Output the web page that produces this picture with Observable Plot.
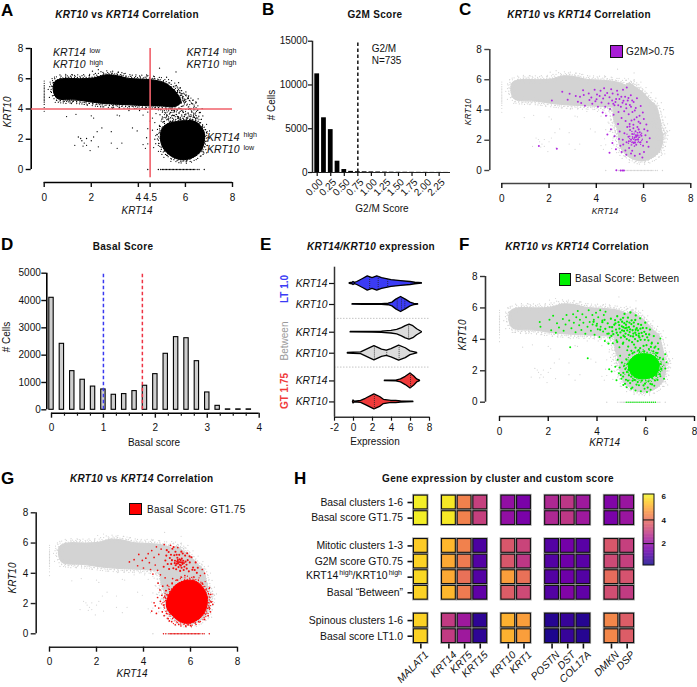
<!DOCTYPE html>
<html><head><meta charset="utf-8">
<script src="https://cdn.jsdelivr.net/npm/d3@7"></script>
<script src="https://cdn.jsdelivr.net/npm/@observablehq/plot@0.6"></script>
<style>
html,body{margin:0;padding:0;background:#fff}
#page{position:relative;width:697px;height:687px;overflow:hidden;font-family:"Liberation Sans",Arial,sans-serif;color:#111}
#page svg{position:absolute;background:transparent;overflow:visible}
.t{position:absolute;white-space:nowrap;line-height:1}
.t sup{font-size:.68em;line-height:0;vertical-align:baseline;position:relative;top:-.45em;margin-left:1px}
</style></head><body><div id="page"></div>
<script>
// ---------- data ----------
const histG2mBins=[0,.125,.25,.375,.5,.625,.75,.875,1,1.125,1.25,1.375,1.5,1.625,1.75,1.875,2,2.125,2.25,2.375];
const histG2mCells=[11270,6250,4900,1290,340,130,90,80,70,60,50,40,30,30,25,20,20,15,15,10];
const basalBins=[0,.2,.4,.6,.8,1,1.2,1.4,1.6,1.8,2,2.2,2.4,2.6,2.8,3,3.2,3.4,3.6,3.8];
const basalCells=[4100,2415,1415,1100,850,745,550,575,685,880,1305,2050,2660,2620,1780,635,145,15,15,15];
const violinNames=["KRT14","KRT10","KRT14","KRT10","KRT14","KRT10"];
const violinFills=["#3b3bf5","#3b3bf5","#dcdcdc","#dcdcdc","#f03a3a","#f03a3a"];
const violinShapes=[
 [[-.4,.05],[-.1,.1],[0,.2],[.15,.08],[.4,.2],[1,.6],[1.5,.95],[2,.72],[2.5,.95],[3,.72],[4,.46],[5,.32],[6,.2],[6.5,.1],[7.2,.03]],
 [[-.1,.03],[1,.04],[3,.05],[3.7,.1],[4.1,.25],[4.5,.65],[5,1],[5.5,.65],[6,.25],[6.4,.08],[6.8,.03]],
 [[-.3,.03],[2,.05],[3,.08],[4,.17],[4.6,.3],[5.1,.55],[5.5,.82],[5.9,1],[6.3,.8],[6.7,.4],[7.2,.03]],
 [[-.6,.04],[0,.08],[.8,.12],[1.3,.42],[2.2,.95],[3,.48],[3.5,.34],[4,.55],[4.8,1],[5.5,.66],[6,.25],[6.7,.03]],
 [[3.3,.03],[4.5,.05],[5,.2],[5.5,.55],[6,1],[6.4,.6],[6.7,.2],[7,.03]],
 [[-.05,.03],[0,.2],[.15,.04],[.8,.13],[1.3,.42],[2.2,1],[2.8,.66],[3.2,.28],[4,.13],[4.5,.14],[5,.08],[6.3,.03]]];
const violinMarks=[[[1.7,.8],[2.6,.93],[3.6,.54]],[[4.6,.72],[5.05,.98],[5.4,.7]],[[5.8,.97]],[[2.2,.95],[3.5,.34],[4.8,1]],[[6,1]],[[2.2,1]]];
const violinGroups=[{label:"LT 1.0",y:289,color:"#3b3bf5"},{label:"Between",y:341,color:"#999"},{label:"GT 1.75",y:391,color:"#f03a3a"}];

const cloudBand=[[.38,5.35],[.48,5.85],[.9,6.02],[1.5,6],[2.1,6.05],[2.6,6.25],[3.1,6.2],[3.6,6.02],[4.2,5.97],[4.7,5.9],[5.15,5.7],[5.45,5.35],[5.7,4.9],[5.8,4.45],[5.5,4.15],[5,4.2],[4.4,4.22],[3.6,4.28],[3,4.32],[2.2,4.42],[1.5,4.58],[.8,4.62],[.5,4.78]];
const cloudLobe=[[4.98,2.6],[5.25,3.02],[5.8,3.2],[6.35,3.2],[6.68,2.8],[6.82,2.2],[6.7,1.35],[6.36,.84],[5.95,.65],[5.5,.8],[5.12,1.28],[4.95,1.9]];
const cloudBridge=[[4.7,4.5],[5.4,5.8],[5.95,5.2],[6.3,4.6],[6.55,4.25],[6.72,3.2],[6.78,2.3],[5,2.3],[4.75,3.3]];
const bridgeScribble=[[4.85,4.1],[5.4,3.1],[5.1,3.9],[5.9,3.2],[5.3,4.1],[6.3,3.2],[5.7,4.1],[6.6,3.3],[6.1,4.15],[6.65,3.7],[6.35,4.3],[6.55,3],[5.5,3.6],[4.95,3.3],[5.6,3.95],[6.4,3.45],[5.6,5.6],[6,4.4],[5.8,5.3],[6.3,4.3],[6,5],[6.5,4.4],[5.9,4.2],[6.15,4.8],[5.75,4.3]];
const bridgeDots=[[4.85,3.95],[4.92,3.62],[4.97,3.2],[5.03,3.87],[5.02,3.47],[5.11,3.04],[5.13,3.77],[5.17,4.02],[5.23,3.33],[5.21,3.63],[5.29,3.88],[5.31,3.14],[5.37,3.42],[5.36,3.77],[5.44,4.01],[5.47,3.22],[5.49,3.57],[5.53,3.85],[5.59,3.31],[5.62,3.63],[5.64,3.97],[5.69,3.41],[5.73,3.76],[5.77,3.28],[5.81,4.03],[5.85,3.53],[5.89,3.84],[5.93,3.29],[5.97,3.62],[6.02,3.96],[6.04,3.41],[6.11,3.73],[6.13,3.97],[6.19,3.52],[6.23,3.23],[6.27,3.81],[6.33,3.44],[6.35,4.07],[6.41,3.67],[6.44,3.24],[6.51,3.92],[6.53,4.21],[6.57,3.52],[6.61,3.08],[6.63,3.77],[6.67,3.32],[6.71,4.03],[6.74,3.54],[6.73,2.93],[5.57,5.53],[5.78,5.41],[6.02,5.13],[6.14,4.87],[6.31,4.58],[6.46,4.44],[6.54,4.67],[5.41,5.88],[5.71,5.74]];
const stragglers=[[1.3,1.6],[1.45,2.15],[1.55,2.05],[1.6,1.9],[1.65,1.55],[1.7,1.75],[1.8,1.6],[1.8,2.05],[1.95,1.25],[2,1.9],[2.1,2.15],[2.3,1.5],[2.25,2.5],[2.45,2.75],[2.85,2.5],[2.85,1.75],[3.1,1.4],[3.3,1.75],[.95,3.5],[1.35,3.65],[2,3.55],[2.1,3.4],[3.1,3.6],[3.2,3.55],[3.75,2.75],[3.95,2.55],[4.2,1.65],[4.3,1.4],[4.4,1.7],[4.35,2.1],[4.4,2.7],[4.5,3.2],[4.2,3.6],[4.4,3.8],[4.05,3.9],[3.6,3.9],[2.3,6.6],[2.05,6.5],[4.9,6.7],[5.6,6.45],[4.8,2.3],[4.7,2],[4.85,1.6],[4.95,1.2],[4.9,2.85],[5,1],[5.2,.95],[4.7,3.1],[4.6,3.4],[4.75,3.7],[6.9,1.1],[6.92,2.5],[6.82,1.75],[6.75,1],[4.6,2.6],[4.65,1.45],[.6,4.45],[1.1,4.4],[1.7,4.3],[2.4,4.15],[2.9,4.05],[.45,6],[1.2,6.25],[3.3,6.4],[4.35,6.25],[5.2,6.1]];
const leftStripY=[3.85,4.1,4.3,4.45,4.55,4.65,4.75,4.85,4.95,5.05,5.15,5.25,5.35,5.45,5.55,5.7,5.85];
const zeroRowX=[4.4,4.85,4.95,5.02,5.08,5.14,5.2,5.26,5.32,5.38,5.44,5.5,5.56,5.62,5.68,5.74,5.8,5.86,5.92,5.98,6.04,6.1,6.16,6.22,6.28,6.34,6.4,6.5,6.58,6.8];

const g2mDots=[[2.12,4.62],[2.33,1.43],[1.57,1.62],[2.56,5.21],[2.79,4.68],[2.87,5.07],[3.13,4.93],[3.22,4.55],[3.31,4.88],[3.36,4.47],[3.47,4.99],[3.52,4.28],[3.44,5.31],[3.71,4.66],[3.68,5.09],[3.83,4.41],[3.79,4.83],[3.93,5.34],[3.96,4.58],[4.03,5.02],[4.07,4.22],[4.01,4.71],[4.18,5.27],[4.22,4.49],[4.27,3.83],[4.14,4.92],[4.33,5.44],[4.38,4.21],[4.29,4.76],[4.46,5.13],[4.41,3.62],[4.52,4.43],[4.37,4.97],[4.63,5.38],[4.58,4.07],[4.67,4.62],[4.73,3.68],[4.69,5.09],[4.77,4.31],[4.56,4.84],[4.88,5.27],[4.81,4.53],[4.94,3.87],[4.91,5.03],[5.04,4.22],[4.98,4.73],[5.07,3.47],[5.13,5.34],[5.11,4.48],[5.18,3.92],[5.22,4.87],[5.27,4.12],[5.24,3.27],[5.33,4.63],[5.29,5.48],[5.37,3.72],[5.42,4.33],[5.46,4.97],[5.41,3.08],[5.53,3.86],[5.58,4.53],[5.61,3.38],[5.67,4.13],[5.72,4.78],[5.74,2.87],[5.83,3.62],[5.88,4.27],[5.86,3.12],[5.97,3.83],[6.03,2.72],[6.01,3.41],[6.08,2.33],[6.12,3.04],[6.14,1.88],[6.17,2.63],[6.21,1.57],[6.26,2.14],[4.47,2.38],[4.56,1.17],[4.62,2.73],[4.68,1.82],[4.77,2.27],[4.83,1.41],[4.92,3.07],[4.96,2.08],[5.02,1.63],[4.99,2.58],[5.07,1.22],[5.12,2.03],[5.14,1.72],[5.19,2.47],[5.23,1.33],[5.27,1.04],[5.31,2.88],[5.28,1.87],[5.36,2.23],[5.39,1.48],[5.43,2.67],[5.47,1.12],[5.52,1.31],[5.63,.97],[5.84,1.09],[5.95,.86],[6.02,1.23],[5.03,0],[5.11,0],[5.17,0],[4.85,.02],[4.72,4.41],[4.84,4.73],[4.93,4.31],[5.06,4.88],[5.15,4.61],[5.26,4.38],[5.36,4.79],[5.47,4.21],[5.52,4.62],[5.63,3.97],[5.71,3.52],[5.79,3.23],[5.57,3.02],[5.49,3.31],[5.41,2.91],[5.57,2.79],[5.66,2.59],[5.73,2.33],[5.52,2.42],[5.62,2.18],[5.47,2.03],[5.58,1.82],[5.69,1.71],[5.77,2.07],[5.87,1.87],[5.91,2.29],[5.98,1.63],[5.84,2.53],[5.79,2.72],[5.38,1.93]];
const g2mScribble=[[5.3,2.4],[5.9,1.7],[5.5,2.6],[6,2],[5.35,1.8],[5.95,2.5],[5.45,1.6],[5.8,2.7],[5.6,1.5],[5.7,2.4],[5.4,2.1]];

const betweenCore=[[5.3,2.15],[5.55,1.6],[6,1.5],[6.4,1.75],[6.55,2.45],[6.25,3],[5.7,3.05],[5.35,2.65]];
const betweenDots=[[1.65,5.1],[1.68,4.8],[2.05,5.25],[2.12,4.58],[2.2,5.5],[2.31,4.42],[2.36,5.03],[2.44,4.75],[2.6,5.3],[2.63,4.55],[2.71,4.95],[2.75,5.55],[2.86,5.2],[2.9,3.5],[2.95,4.7],[3.02,5.6],[3.05,5.05],[3.12,4.45],[3.15,5.4],[3.21,5.8],[3.27,4.9],[3.3,5.25],[3.36,4.6],[3.4,5.6],[3.44,5.05],[3.52,4.35],[3.55,5.4],[3.61,4.8],[3.62,2.8],[3.66,5.85],[3.7,5.1],[3.75,4.55],[3.81,5.55],[3.82,4.95],[3.87,5.25],[3.9,4.3],[3.96,5.7],[4,5],[4.03,4.65],[4.05,5.4],[4.1,4.15],[4.13,5.85],[4.15,4.8],[4.22,5.2],[4.25,4.5],[4.28,5.55],[4.32,3.9],[4.35,5.75],[4.42,4.35],[4.52,4.1],[4.65,3.75],[4.8,3.95],[4.92,3.5],[5.08,3.8],[5.24,3.3],[5.46,3.1],[5.74,3.2],[6.25,3.8],[6.4,3.55],[6.42,3.15],[6.5,3.75],[6.6,4.05],[6.8,3.05],[6.85,2.55],[4.5,2.1],[4.6,1.95],[4.75,2.25],[4.8,1.4],[4.85,2.7],[4.9,1.85],[4.95,2.95],[5,1.5],[5.08,1.1],[5.22,.95],[5.4,.85],[5.58,.75],[5.8,.7],[5.95,.85],[6.05,.65],[6.2,.8],[6.35,1.05],[6.45,1.8],[6.6,1.65],[6.75,1.5],[6.8,2.15]];
const betweenUpperDots=[[4.57,5.31],[4.83,5.47],[5.03,5.12],[4.71,4.93],[5.27,5.38],[5.16,4.71],[4.96,4.44],[5.41,4.97],[5.57,5.23],[5.34,4.46],[5.63,4.71],[4.78,4.62],[5.09,4.23],[5.48,4.18],[5.72,4.37],[5.81,4.92],[5.94,4.48],[6.06,4.13],[5.67,3.89],[5.22,4.02],[4.88,5.09],[4.63,4.51],[4.44,5.02],[4.34,4.67],[4.22,5.09],[5.13,5.62],[5.37,5.71],[5.59,5.52],[5.77,5.34],[5.98,5.06],[6.17,4.62],[6.33,4.21],[6.24,3.73],[5.91,3.58],[5.52,3.67],[5.28,3.54],[5.06,3.72],[4.83,3.83],[4.59,4.22],[4.47,3.73],[5.19,4.93],[5.02,4.83],[5.31,4.77],[5.46,4.58],[5.24,4.57],[4.92,4.68],[5.11,4.53],[5.38,4.21],[5.57,4.42],[5.74,4.12],[5.87,4.21],[5.68,4.57],[5.51,4.83],[5.33,5.07],[5.12,5.03],[4.97,5.26],[4.74,5.22],[4.52,4.78],[4.67,4.33],[5.42,5.21],[5.78,4.68],[6.03,4.72],[6.14,4.31],[5.96,3.97],[5.61,4.28],[5.17,4.37],[5.03,4.57],[4.86,4.27],[5.29,4.29],[5.44,3.82],[4.76,5.02],[4.91,4.91],[5.08,4.77],[5.22,4.74],[5.36,4.63],[5.49,4.37],[5.59,4.61],[5.71,4.22],[5.83,4.41],[4.98,4.11],[5.14,4.16],[5.32,3.93],[5.56,4.02],[5.79,3.97],[6.01,4.33],[6.11,3.94],[5.88,4.73],[5.69,4.97],[5.51,5.07],[5.23,5.13],[5.07,5.37],[4.81,4.42],[4.62,4.77],[4.48,4.37],[4.31,5.24],[4.13,4.61],[3.98,4.87],[3.86,5.12]];
const betweenLowerDots=[[5.12,2.33],[5.21,2.71],[5.33,3.02],[5.08,1.87],[5.19,1.43],[5.36,1.22],[5.29,2.06],[5.41,1.63],[5.53,1.42],[5.67,1.28],[5.83,1.37],[5.97,1.18],[6.11,1.33],[6.27,1.52],[6.43,1.67],[6.53,2.02],[6.61,2.43],[6.58,2.83],[6.47,3.12],[6.31,3.23],[6.13,3.38],[5.94,3.24],[5.71,3.31],[5.53,3.18],[5.02,2.52],[4.93,2.21],[5.15,1.17],[5.45,.93],[5.72,1.08],[6.08,.93],[6.26,1.13],[5.58,3.47],[6.03,3.63],[6.36,3.47],[6.52,3.38],[5.26,2.44],[5.31,1.71],[5.37,2.37],[6.48,1.42],[6.57,1.79],[5.23,1.92],[5.16,2.11],[5.27,1.37],[5.46,1.37],[5.62,1.12],[5.91,1.07],[6.19,1.17],[6.38,1.38],[5.07,1.63],[4.97,1.73],[5.41,3.27],[5.77,3.44],[6.21,3.52],[6.42,2.97],[6.64,2.12],[6.71,2.73]];
const betweenZero=[5.2,5.28,5.36,5.44,5.52,5.6,5.68,5.76,5.84,5.92,6,6.08,6.16,6.24,6.32,6.4];

const gtLobe=[[4.98,2.1],[5.12,2.7],[5.4,3.25],[5.8,3.52],[6.2,3.48],[6.5,3.1],[6.7,2.5],[6.67,1.7],[6.42,1.1],[6,.72],[5.6,.78],[5.28,1.15],[5.03,1.6]];
const gtDots=[[3.4,4.75],[3.6,4.9],[3.75,4.5],[3.8,5.25],[3.95,4.85],[4,4.35],[4.1,5],[4.2,5.3],[4.25,4.7],[4.3,4.25],[4.35,5.5],[4.4,3.95],[4.45,5.05],[4.5,4.55],[4.55,5.75],[4.6,4.2],[4.65,5.25],[4.72,3.9],[4.75,5.6],[4.88,5.9],[4.92,3.7],[5.15,5.85],[5.24,3.65],[5.46,5.7],[5.76,3.85],[6.42,3.85],[6.5,4.25],[6.6,4],[4.35,1.5],[4.45,2.05],[4.5,1.85],[4.55,1.35],[4.6,2.4],[4.62,3.35],[4.65,1.7],[4.7,2.9],[4.72,2.15],[4.78,2.55],[4.8,1.45],[4.82,3.15],[4.85,1.9],[4.88,1.2],[4.92,2.4],[4.95,2.85],[4.98,1.35],[5.02,3.2],[5.05,1],[5.1,.85],[5.2,.8],[5.22,3.35],[5.35,.6],[5.45,3.55],[5.5,.62],[5.6,3.75],[5.8,.52],[6,.55],[6.15,3.75],[6.2,.72],[6.35,.8],[6.5,3.35],[6.6,.95],[6.75,1.2],[6.85,1.45],[6.85,2.6],[6.88,2.1],[6.8,1.75],[6.8,3],[6.95,1.95]];
const gtUpperDots=[[5.07,5.41],[5.23,5.62],[5.34,4.83],[5.41,5.23],[5.18,4.62],[5.27,4.33],[5.49,4.41],[5.53,4.93],[5.61,5.43],[5.66,4.62],[5.71,4.22],[5.77,5.17],[5.83,4.57],[5.88,4.87],[5.37,4.53],[5.44,5.03],[5.57,4.73],[5.63,4.97],[5.47,4.67],[5.31,5.19],[5.12,5.01],[5.03,4.61],[4.97,5.17],[4.86,4.43],[5.93,4.13],[6.04,5.06],[6.11,4.38],[6.22,4.72],[5.74,4.43],[5.56,4.16],[5.39,4.27],[5.21,4.87],[5.09,4.28],[4.93,4.85],[5.67,5.31],[5.79,4.77],[5.52,5.22],[5.42,4.63],[5.59,4.51],[5.69,4.83],[5.33,4.67],[5.46,4.87],[5.62,4.37],[5.84,4.31],[5.97,4.72],[6.08,4.23],[5.51,4.74],[5.58,4.87],[5.64,4.72],[5.54,4.57],[5.43,4.77],[5.72,4.68],[5.36,5.42],[5.17,5.23],[4.99,5.53],[5.28,5.74],[5.86,5.33],[5.96,5.12],[6.18,4.22],[6.31,4.37],[6.27,4.03]];
const gtZero=[4.85,4.95,5.08,5.14,5.2,5.26,5.32,5.38,5.44,5.5,5.56,5.62,5.68,5.74,5.8,5.86,5.92,5.98,6.04,6.1,6.16,6.22,6.28,6.34,6.4,6.5,6.58,6.8];

const geneNames=["MALAT1","KRT14","KRT5","KRT15","KRT10","KRT1","POSTN","DST","COL17A","DMKN","DSP"];
const geneGroup=[0,1,1,1,2,2,3,3,3,4,4];
const rowNames=["Basal clusters 1-6","Basal score GT1.75","Mitotic clusters 1-3","G2M score GT0.75","","Basal “Between”","Spinous clusters 1-6","Basal score LT1.0"];
const rowGroup=[0,0,1,1,1,1,2,2];
const heatValues=[
 [6,5.9,4.3,3,2,1.6,2.5,2.8,2.2,1.7,2.1],
 [6,5.9,4.3,3,2,1.6,2.5,2.8,2.2,1.6,2.1],
 [5.5,5.2,4.3,.9,3.5,3.1,1,1.5,1.1,3.5,3],
 [5.6,5,4.2,1,3.5,2.8,1,1.4,1.1,3.2,3],
 [5.7,5,4,1,4.8,4,1,1.4,1,3.9,3.4],
 [5.6,5.2,4.2,1.2,3.6,3.2,1,1.7,1.2,3.3,2.9],
 [5.6,2.9,2.2,.5,5.1,4.8,.4,.6,.4,4.4,3.6],
 [5.6,2.9,2.2,.5,5.1,4.8,.3,.6,.4,4.4,3.6]];

// ---------- helpers ----------
const page=document.getElementById("page");
const FONT='"Liberation Sans",Arial,sans-serif';
function panel(region,frame,marks,opts={}){
  const [X,Y,W,H]=region,[l,t,r,b]=frame;
  const svg=Plot.plot({width:W,height:H,marginLeft:l-X,marginTop:t-Y,marginRight:X+W-r,marginBottom:Y+H-b,
    style:{fontFamily:FONT,fontSize:(opts.fs||10)+"px",background:"transparent",color:"#111",overflow:"visible"},marks,...opts.plot});
  svg.style.left=X+"px";svg.style.top=Y+"px";page.appendChild(svg);
}
function txt(x,y,html,{size=10,bold=false,italic=false,anchor="c",rotate=0,color="#111",ls=0}={}){
  const d=document.createElement("div");d.className="t";d.innerHTML=html;
  const tx=anchor==="c"?"-50%":anchor==="r"?"-100%":"0";
  d.style.cssText+=`left:${x}px;top:${y}px;font-size:${size}px;font-weight:${bold?700:400};font-style:${italic?"italic":"normal"};color:${color};letter-spacing:${ls}px;transform:translate(${tx},-50%) rotate(${rotate}deg);`;
  page.appendChild(d);
}
const title=(x,y,h)=>txt(x,y,h,{size:10,bold:true,ls:.3});
const letter=(x,y,s)=>txt(x,y,s,{size:17,bold:true,anchor:"l",color:"#000"});
const dots=(a,fill,r=.7,o=1)=>Plot.dot(a,{x:d=>d[0],y:d=>d[1],r,fill,fillOpacity:o,stroke:"none"});
const poly=(a,fill,curve="cardinal-closed")=>Plot.line(a,{x:d=>d[0],y:d=>d[1],curve,fill,stroke:fill,strokeWidth:1});
const stippleLayers=[[0,0,2.1],[2,-1.2,2.9],[-2,1.4,3.3],[3.2,2,4.1],[-3.4,-2.4,4.7],[1,3.6,5.3],[-1,-4,5.9],[5,-3,7.3],[-5,3,8.1]];
const fuzz=(a,stroke,w=1.25)=>stippleLayers.map(([dx,dy,p])=>Plot.line(a,{x:d=>d[0],y:d=>d[1],curve:"cardinal-closed",dx,dy,fill:"none",stroke,strokeWidth:w,strokeLinecap:"round",strokeDasharray:`0 ${p}`}));
const scribble=(a,stroke,p=2.6,w=1.4)=>Plot.line(a,{x:d=>d[0],y:d=>d[1],fill:"none",stroke,strokeWidth:w,strokeLinecap:"round",strokeDasharray:`0 ${p}`});
const stripL=c=>dots(leftStripY.map(y=>[0,y]),c,.6);
const zeroR=(a,c)=>dots(a.map(x=>[x,0]),c,.7);
function xyAxes(gapY,gapX,color,xticks=[0,2,4,6,8],fs=10){
  return [
    Plot.ruleX([0],{y1:0,y2:8,dx:-gapY,stroke:color,strokeWidth:1.6}),
    Plot.ruleY([0],{x1:0,x2:8,dy:gapX,stroke:color,strokeWidth:1.6}),
    Plot.axisY({ticks:[0,2,4,6,8],dx:-gapY,tickSize:5,tickPadding:3,stroke:color,strokeWidth:1.4,label:null,fontSize:fs}),
    Plot.axisX({ticks:xticks,tickFormat:d=>String(d),dy:gapX,tickSize:5,tickPadding:6,stroke:"#111",strokeWidth:1.4,label:null,fontSize:fs})
  ];
}
const grayCloud=()=>{const g="#d3d3d3";return [poly(cloudBridge,g,"linear-closed"),poly(cloudBand,g),poly(cloudLobe,g),...fuzz(cloudBand,g),...fuzz(cloudLobe,g),...fuzz(cloudBridge,g),dots(stragglers,g,.6),stripL(g),zeroR(zeroRowX,g)];};
const xy={x:{domain:[0,8]},y:{domain:[0,8]}};
function swatch(x,y,w,h,c){const d=document.createElement("div");d.style.cssText=`position:absolute;left:${x}px;top:${y}px;width:${w}px;height:${h}px;background:${c};border:1.2px solid #111;box-sizing:border-box`;page.appendChild(d);}

// ---------- A ----------
panel([0,30,245,190],[43.7,48,232,169],[
  poly(cloudBand,"#000"),poly(cloudLobe,"#000"),...fuzz(cloudBand,"#000"),...fuzz(cloudLobe,"#000"),
  scribble(bridgeScribble,"#000",3.1,1.2),dots(bridgeDots,"#000",.65),dots(stragglers,"#000",.65),stripL("#000"),zeroR(zeroRowX,"#000"),
  ...xyAxes(13,13,"#000",[0,2,4,4.5,6,8]),
  Plot.ruleY([4],{x1:-.54,x2:8,stroke:"#f0606a",strokeWidth:1.6}),
  Plot.ruleX([4.5],{y1:-.55,y2:8,stroke:"#f0606a",strokeWidth:1.6})
],{plot:xy});
letter(1,10,"A");title(127,15,"<i>KRT10</i> vs <i>KRT14</i> Correlation");
txt(137,211,"KRT14",{italic:true,size:10});txt(8,112,"KRT10",{italic:true,size:10,rotate:-90});
const ql={size:10.5,italic:true,anchor:"l"};
const hi="<sup style='font-style:normal'>high</sup>",lo="<sup style='font-style:normal'>low</sup>";
txt(53,52,"KRT14 "+lo,ql);txt(53,64,"KRT10 "+hi,ql);txt(186.5,52,"KRT14 "+hi,ql);txt(186.5,64,"KRT10 "+hi,ql);
txt(207,136.5,"KRT14 "+hi,ql);txt(207,149,"KRT10 "+lo,ql);

// ---------- B ----------
const g2m=histG2mBins.map((b,i)=>({b,c:histG2mCells[i]}));
panel([262,30,198,195],[316.7,40.7,450,172],[
  Plot.rect(g2m,{x1:d=>d.b-.0625,x2:d=>d.b+.0625,y1:0,y2:"c",fill:"#000",insetLeft:1,insetRight:1}),
  Plot.ruleX([0],{y1:0,y2:15000,dx:-4.7,stroke:"#222",strokeWidth:1.5}),
  Plot.ruleY([0],{x1:-.087,x2:2.46,stroke:"#222",strokeWidth:1.2}),
  Plot.ruleX([.75],{y1:0,y2:15000,stroke:"#111",strokeWidth:1.5,strokeDasharray:"3.5 2.5"}),
  Plot.axisY({ticks:[0,5000,10000,15000],tickFormat:d=>String(d),dx:-4.7,tickSize:4,tickPadding:1,label:null,strokeWidth:1.2}),
  Plot.axisX({ticks:d3.range(0,2.26,.25),text:null,tickSize:4,label:null,strokeWidth:1.2}),
  Plot.axisX({ticks:d3.range(0,2.26,.25),tickFormat:d3.format(".2f"),tickSize:0,tickPadding:8,dx:4,tickRotate:-45,label:null,fontSize:10})
],{plot:{x:{domain:[0,2.46]},y:{domain:[0,15000]}}});
letter(262,9,"B");title(375,15,"G2M Score");
txt(371.7,48.7,"G2/M",{anchor:"l"});txt(371.7,60.7,"N=735",{anchor:"l"});
txt(382,209,"G2/M Score");txt(271.7,105,"# Cells",{rotate:-90});

// ---------- C ----------
panel([462,30,235,190],[501.3,49,690.3,170],[
  ...grayCloud(),scribble(g2mScribble,"#b128e0",3.4,1.4),dots(g2mDots,"#b128e0",1),
  ...xyAxes(12,13,"#444")
],{plot:xy});
letter(459,9,"C");title(579,15,"<i>KRT10</i> vs <i>KRT14</i> Correlation");
txt(605,210.7,"KRT14",{italic:true,size:8.5});txt(468,112,"KRT10",{italic:true,size:8.5,rotate:-90});
swatch(609.5,45,13,13,"#a81fd6");txt(626,51.7,"G2M&gt;0.75",{anchor:"l",ls:.2});

// ---------- D ----------
const basal=basalBins.map((b,i)=>({b,c:basalCells[i]}));
panel([0,260,262,175],[51,272.7,258.7,409.3],[
  Plot.rect(basal,{x1:d=>d.b-.1,x2:d=>d.b+.1,y1:0,y2:"c",fill:"#cfcfcf",stroke:"#000",strokeWidth:1.1,insetLeft:3,insetRight:3}),
  Plot.ruleX([1],{y1:0,y2:5000,stroke:"#3a3af0",strokeWidth:1.5,strokeDasharray:"3.5 2.5"}),
  Plot.ruleX([1.75],{y1:0,y2:5000,stroke:"#ee3344",strokeWidth:1.5,strokeDasharray:"3.5 2.5"}),
  Plot.ruleX([0],{y1:0,y2:5000,dx:-4.7,stroke:"#000",strokeWidth:1.6}),
  Plot.ruleY([0],{x1:0,x2:4,dy:3.4,stroke:"#000",strokeWidth:1.6}),
  Plot.axisY({ticks:[0,1000,2000,3000,4000,5000],tickFormat:d=>String(d),dx:-4.7,tickSize:5,tickPadding:1,label:null,strokeWidth:1.4}),
  Plot.axisX({ticks:[0,1,2,3,4],tickFormat:d=>String(d),dy:3.4,tickSize:5,tickPadding:6,label:null,strokeWidth:1.4}),
  Plot.axisX({ticks:[.25,.5,.75,1.25,1.5,1.75,2.25,2.5,2.75,3.25,3.5,3.75],text:null,dy:3.4,tickSize:3,strokeWidth:1.2})
],{plot:{x:{domain:[0,4]},y:{domain:[0,5000]}}});
letter(1,244,"D");title(123,247,"Basal Score");
txt(154,443,"Basal score");txt(7,337,"# Cells",{rotate:-90});

// ---------- E ----------
const rowPos=[0,1,2.32,3.32,4.64,5.64];
const K=.357;
const vShape=violinShapes.flatMap((s,i)=>s.map(([v,h])=>({v,lo:rowPos[i]-h*K,hi:rowPos[i]+h*K,i,f:violinFills[i]})));
const vMark=violinMarks.flatMap((s,i)=>s.map(([v,h])=>({v,lo:rowPos[i]-h*K,hi:rowPos[i]+h*K})));
panel([262,255,198,175],[334,266.7,429,416.7],[
  Plot.ruleY([1.66,3.98],{x1:-2,x2:8,stroke:"#aaa",strokeWidth:.7,strokeDasharray:"1.5 1.5"}),
  Plot.area(vShape,{x1:"v",y1:"lo",y2:"hi",z:"i",fill:"f",stroke:"#000",strokeWidth:1.3}),
  Plot.ruleX(vMark,{x:"v",y1:"lo",y2:"hi",stroke:"#222",strokeWidth:.8,strokeDasharray:"1 1"}),
  Plot.ruleX([-2],{y1:-.776,y2:6.367,stroke:"#333",strokeWidth:1.5}),
  Plot.ruleY([6.367],{x1:-2,x2:8,stroke:"#333",strokeWidth:1.5}),
  Plot.axisY({ticks:rowPos,tickFormat:(d,i)=>violinNames[i],fontStyle:"italic",fontSize:10.3,tickSize:5,tickPadding:2,label:null,strokeWidth:1.2}),
  Plot.axisX({ticks:[-2,0,2,4,6,8],tickFormat:d=>String(d),tickSize:4,tickPadding:3,label:null,strokeWidth:1.2})
],{plot:{x:{domain:[-2,8]},y:{domain:[-.776,6.367],reverse:true}}});
letter(260,244,"E");title(371,247,"<i>KRT14/KRT10</i> expression");
txt(375,442,"Expression");
violinGroups.forEach(g=>txt(285,g.y,g.label,{rotate:-90,color:g.color,bold:g.label!=="Between",size:10}));

// ---------- F ----------
panel([462,260,235,175],[499,276,694,401.7],[
  ...grayCloud(),
  poly(betweenCore,"#00f000"),...fuzz(betweenCore,"#00f000",1.2),
  dots(betweenDots,"#00f000",1),dots(betweenUpperDots,"#00f000",1.15),dots(betweenLowerDots,"#00f000",1.1),zeroR(betweenZero,"#00f000"),
  ...xyAxes(14,14.3,"#333")
],{plot:xy});
letter(459,244,"F");title(577,247,"<i>KRT10 vs KRT14</i> Correlation");
txt(604.7,443,"KRT14",{italic:true});txt(463,335,"KRT10",{italic:true,rotate:-90});
swatch(558.7,273,12.6,12.8,"#00f000");txt(575,279.3,"Basal Score: Between",{anchor:"l",ls:.3});

// ---------- G ----------
panel([0,495,262,190],[49,512.3,237,633.3],[
  ...grayCloud(),
  poly(gtLobe,"#ff0000"),...fuzz(gtLobe,"#ff0000"),dots(gtDots,"#f01010",.85),dots(gtUpperDots,"#f01010",1.05),zeroR(gtZero,"#f01010"),
  ...xyAxes(13.3,13.4,"#222")
],{plot:xy});
letter(1,478,"G");title(141.7,479,"<i>KRT10</i> vs <i>KRT14</i> Correlation");
txt(132,674.3,"KRT14",{italic:true});txt(13,578,"KRT10",{italic:true,rotate:-90});
swatch(129.3,503.3,12.6,12.2,"#ff0000");txt(147,509.7,"Basal Score: GT1.75",{anchor:"l",ls:.3});

// ---------- H ----------
const GAP=.79,RGAP=.78;
const colPos=geneNames.map((_,i)=>i+GAP*geneGroup[i]);
const rowY=rowNames.map((_,i)=>i+RGAP*rowGroup[i]);
const cells=heatValues.flatMap((r,i)=>r.map((v,j)=>({v,x:colPos[j],y:rowY[i]})));
const colorScale={type:"linear",scheme:"plasma",domain:[.15,6.15]};
const rectOpt={x1:d=>d.x-.44,x2:d=>d.x+.44,y1:d=>d.y-.44,y2:d=>d.y+.44};
panel([275,490,362,197],[412.5,494.2,634.5,643.5],[
  Plot.rect(cells,{...rectOpt,fill:"#aaa",stroke:"#aaa",strokeWidth:2.6}),
  Plot.rect(cells,{...rectOpt,fill:"v",stroke:"#111",strokeWidth:1.1}),
  Plot.axisY({ticks:rowY,tickFormat:(d,i)=>rowNames[i],tickSize:5,tickPadding:5,label:null,strokeWidth:1.6,fontSize:10.4}),
  Plot.axisX({ticks:colPos,text:null,tickSize:5,strokeWidth:1.6,label:null}),
  Plot.axisX({ticks:colPos,tickFormat:(d,i)=>geneNames[i],tickSize:0,tickPadding:9,dx:6,tickRotate:-45,fontStyle:"italic",fontSize:10.4,label:null})
],{plot:{x:{domain:[-.5,13.66]},y:{domain:[-.5,9.06],reverse:true},color:colorScale}});
letter(294,478,"H");title(498,479,"Gene expression by cluster and custom score");
txt(402,575.5,"KRT14<sup>high</sup>/KRT10<sup>high</sup>",{anchor:"r",size:10.4});

const steps=d3.range(.15,6.15,.05);
panel([636,488,50,84],[643,494,654,565],[
  Plot.rect(steps,{x1:0,x2:1,y1:d=>d,y2:d=>d+.06,fill:d=>d}),
  Plot.rect([0],{x1:0,x2:1,y1:.15,y2:6.15,fill:"none",stroke:"#111",strokeWidth:1}),
  Plot.axisY({anchor:"right",ticks:[2,4,6],tickFormat:d=>String(d),tickSize:0,tickPadding:7,fontWeight:700,fontSize:8,label:null}),
  Plot.tickY([2,4],{x1:.8,x2:1,y:d=>d,stroke:"#111"})
],{plot:{x:{domain:[0,1],axis:null},y:{domain:[.15,6.15]},color:colorScale}});
</script></body></html>
